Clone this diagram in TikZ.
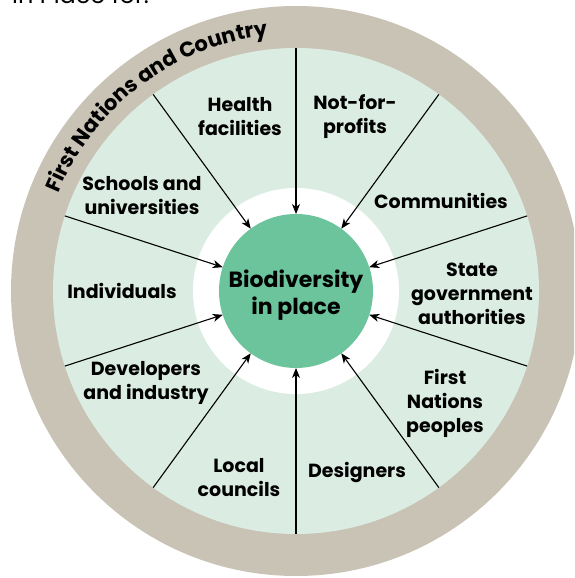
\documentclass[tikz,border=0pt]{standalone}
\usepackage{fontspec}
\setmainfont{Poppins}
\usetikzlibrary{arrows.meta,decorations.text}
\definecolor{ringgray}{RGB}{201,195,182}
\definecolor{palegreen}{RGB}{219,237,226}
\definecolor{midgreen}{RGB}{108,196,156}
\begin{document}
\begin{tikzpicture}[x=1pt,y=1pt,
  lbl/.style={font=\fontsize{19}{24}\selectfont\bfseries, align=center, text=black, inner sep=0pt},
  spoke/.style={line width=1.1pt, -{Stealth[length=10pt,width=8pt,inset=3pt]}}]
\useasboundingbox (0,0) rectangle (574,578);
\clip (0,0) rectangle (574,578);
\coordinate (C) at (296,287);
\fill[ringgray] (C) circle[radius=285];
\fill[palegreen] (C) circle[radius=243];
\fill[white] (C) circle[radius=103];
\node[circle, fill=midgreen, minimum size=154pt, inner sep=0pt, outer sep=0pt] (bio) at (C) {};
\node[lbl, font=\fontsize{22}{27}\selectfont\bfseries] (biotext) at (296,282.5) {Biodiversity\\in place};
\foreach \a [count=\i] in {90,54,18,-18,-54,-90,-126,-162,162,126} {
  \path (C) ++(\a:243) coordinate (s\i);
  \draw[spoke] (s\i) -- (bio);
}
\node[lbl] (health) at (240,461) {Health\\facilities};
\node[lbl] (nfp) at (355,461) {Not-for-\\profits};
\node[lbl] (comm) at (441,377) {Communities};
\node[lbl] (state) at (472,284) {State\\government\\authorities};
\node[lbl] (fnp) at (445,175) {First\\Nations\\peoples};
\node[lbl] (design) at (357,105) {Designers};
\node[lbl] (local) at (239,100) {Local\\councils};
\node[lbl] (dev) at (146,195) {Developers\\and industry};
\node[lbl] (indiv) at (122,287) {Individuals};
\node[lbl] (school) at (142,382) {Schools and\\universities};
\path (C) ++(162:257) coordinate (tstart);
\path[decorate, decoration={text along path, text align=center,
  text={|\fontsize{21}{21}\selectfont\bfseries|First Nations and Country}}]
  (tstart) arc[start angle=162, end angle=92, radius=257];
\node[anchor=base west, inner sep=0pt, font=\fontsize{24}{24}\selectfont] (title) at (12,574) {in Place for:};
\end{tikzpicture}
\end{document}
